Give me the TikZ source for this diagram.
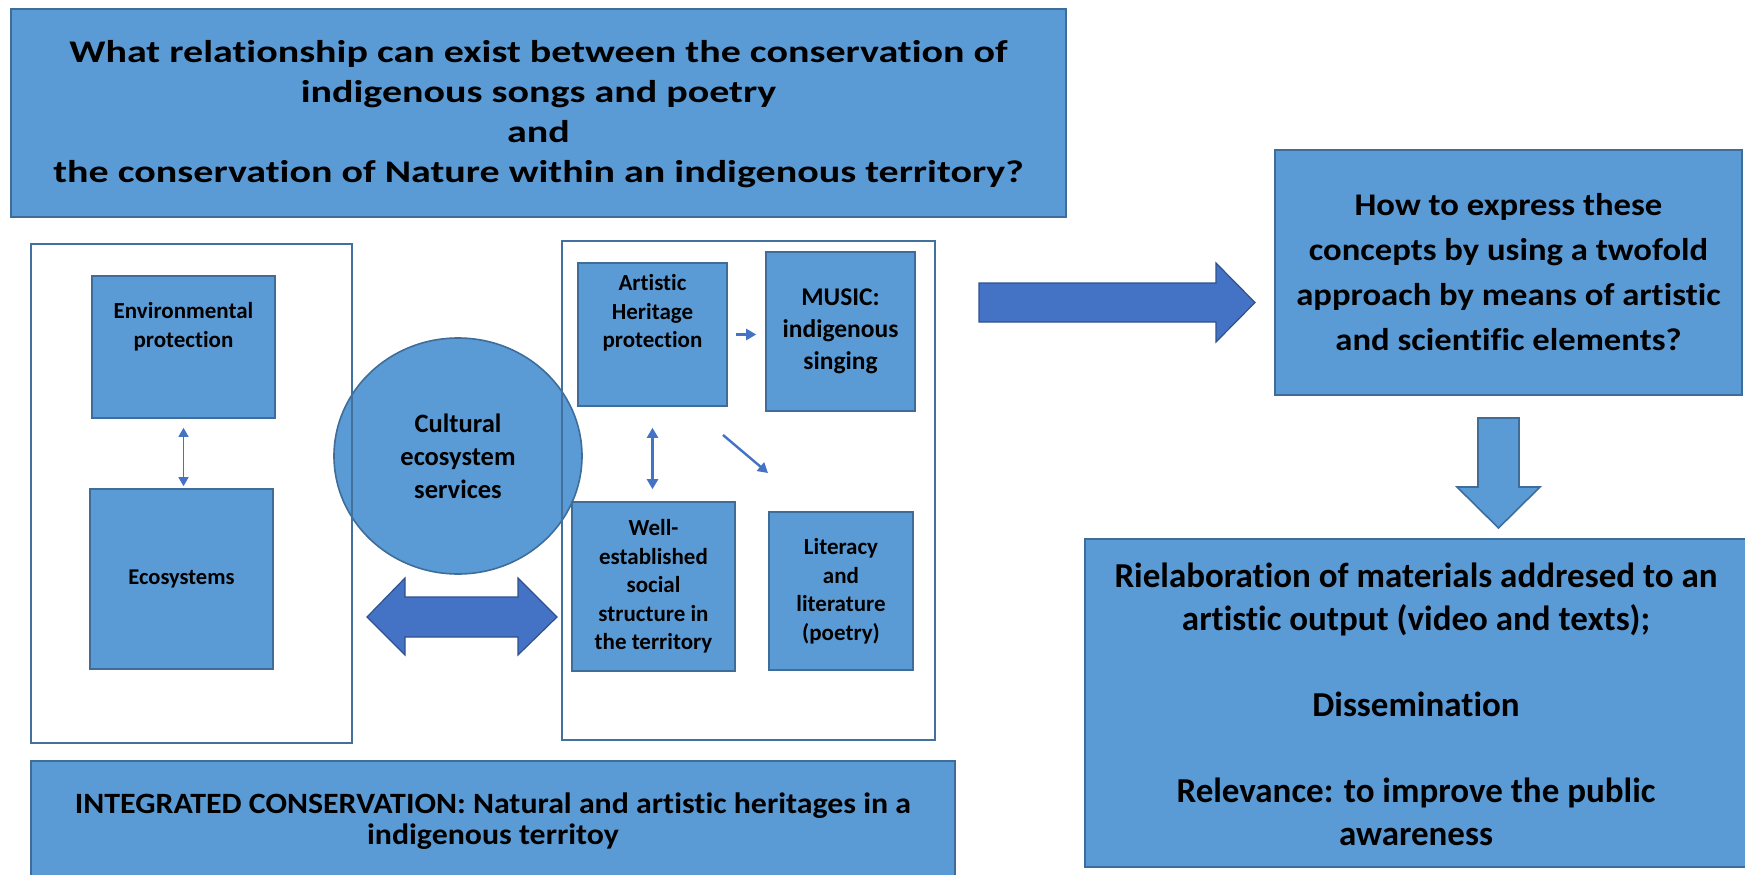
\documentclass[tikz,border=0pt]{standalone}
\usepackage{fontspec}
\setmainfont{Carlito}[Ligatures=NoCommon]
\newfontfamily\widefont{Carlito}[Ligatures=NoCommon, FakeStretch=1.27]
\newfontfamily\midfont{Carlito}[Ligatures=NoCommon, FakeStretch=1.10]
\newfontfamily\slimfont{Carlito}[Ligatures=NoCommon, FakeStretch=1.08]
\usetikzlibrary{arrows.meta,shapes.geometric}
\definecolor{boxblue}{HTML}{5B9BD5}
\definecolor{boxline}{HTML}{3E6D9A}
\definecolor{arrowblue}{HTML}{4472C4}
\definecolor{arrowline}{HTML}{2F528F}
\definecolor{frameline}{HTML}{41719C}
\newcommand{\fs}[2]{\fontsize{#1}{#2}\selectfont\bfseries}
\begin{document}
\begin{tikzpicture}[x=1pt,y=-1pt,
  bluebox/.style={draw=boxline, fill=boxblue, line width=1.6pt, inner sep=0pt, rectangle},
  framebox/.style={draw=frameline, line width=1.8pt},
  lbl/.style={align=center, inner sep=0pt, text=black},
  fatarrow/.style={draw=arrowline, fill=arrowblue, line width=1.2pt, line join=miter},
  downarrow/.style={draw=boxline, fill=boxblue, line width=1.6pt, line join=miter},
  thinarrow/.style={draw=arrowblue, line width=2.4pt, -{Triangle[length=10pt,width=11pt]}},
  twinarrow/.style={draw=arrowblue, line width=2.4pt, {Triangle[length=10pt,width=11pt]}-{Triangle[length=10pt,width=11pt]}},
  hairarrow/.style={draw=arrowblue, line width=1.2pt, {Triangle[length=9pt,width=10pt]}-{Triangle[length=9pt,width=10pt]}}]

\useasboundingbox (0,0) rectangle (1745,875);
\fill[white] (0,0) rectangle (1745,875);
\clip (0,0) rectangle (1745,875);

% research question
\node[bluebox, minimum width=1055pt, minimum height=208pt] (question) at (538.5,113) {};
\node[lbl, font=\widefont\fs{31.5}{40}] (questiontext) at (538.5,114)
  {What relationship can exist between the conservation of\\indigenous songs and poetry\\and\\the conservation of Nature within an indigenous territory?};

% cultural ecosystem services, drawn under the frames
\node[draw=boxline, fill=boxblue, line width=1.6pt, ellipse, minimum width=248pt, minimum height=236pt, inner sep=0pt] (ces) at (458,456) {};
\node[lbl, font=\fs{26.5}{33}] (cestext) at (ces.center) {Cultural\\ecosystem\\services};

% natural heritage frame
\node[framebox, minimum width=321pt, minimum height=499pt, inner sep=0pt] (natframe) at (191.5,493.5) {};
\node[bluebox, minimum width=183pt, minimum height=142pt] (env) at (183.5,347) {};
\node[lbl, font=\fs{23}{29}] (envtext) at (183.5,327) {Environmental\\protection};
\node[bluebox, minimum width=183pt, minimum height=180pt, font=\fs{22.5}{28}, align=center] (eco) at (181.5,579) {Ecosystems};
\draw[hairarrow, shorten <=9pt, shorten >=2pt] (env.south) -- (env.south |- eco.north);

% artistic heritage frame
\node[framebox, minimum width=373pt, minimum height=499pt, inner sep=0pt] (artframe) at (748.5,490.5) {};
\node[bluebox, minimum width=149pt, minimum height=143pt] (art) at (652.5,334.5) {};
\node[lbl, font=\fs{23}{28.5}] (arttext) at (652.5,313) {Artistic\\Heritage\\protection};
\node[bluebox, minimum width=149pt, minimum height=159pt, font=\fs{25.5}{32}, align=center] (music) at (840.5,331.5) {MUSIC:\\indigenous\\singing};
\node[bluebox, minimum width=163pt, minimum height=169pt, font=\fs{23}{28.5}, align=center] (well) at (653.5,586.5) {Well-\\established\\social\\structure in\\the territory};
\node[bluebox, minimum width=144pt, minimum height=158pt, font=\fs{23}{28.5}, align=center] (lit) at (841,591) {Literacy\\and\\literature\\(poetry)};

\draw[thinarrow, shorten <=8pt, shorten >=9pt] (art.east) -- (art.east -| music.west);
\draw[twinarrow, shorten <=21pt, shorten >=12pt] (art.south) -- (art.south |- well.north);
\coordinate (diagstart) at (723,435);
\coordinate (diagend) at (768,473);
\draw[thinarrow] (diagstart) -- (diagend);

% exchange between the two heritages
\coordinate (twinL) at (367,617);
\coordinate (twinR) at (557,617);
\draw[fatarrow] (twinL) -- (405,578) -- (405,597) -- (518,597) -- (518,578) -- (twinR)
  -- (518,655) -- (518,637) -- (405,637) -- (405,655) -- cycle;

% integrated conservation
\node[bluebox, minimum width=924pt, minimum height=121pt] (integrated) at (493,821.5) {};
\node[lbl, font=\slimfont\fs{29.5}{31}] (integratedtext) at (493,821)
  {INTEGRATED CONSERVATION: Natural and artistic heritages in a\\indigenous territoy};

% second question
\node[bluebox, minimum width=467pt, minimum height=245pt] (how) at (1508.5,272.5) {};
\node[lbl, font=\midfont\fs{31.5}{45}] (howtext) at (1508.5,272.5)
  {How to express these\\concepts by using a twofold\\approach by means of artistic\\and scientific elements?};
\coordinate (bigtail) at (979,302.5);
\coordinate (bigtip) at (1255,302.5);
\draw[fatarrow] (bigtail) -- (979,283) -- (1216,283) -- (1216,263) -- (bigtip) -- (1216,342) -- (1216,322) -- (979,322) -- cycle;

% outputs
\node[bluebox, minimum width=665pt, minimum height=328pt] (outputs) at (1417.5,703) {};
\node[lbl, font=\fs{35}{43}] (outputstext) at (1416,704)
  {Rielaboration of materials addresed to an\\artistic output (video and texts);\\[43pt]Dissemination\\[43pt]Relevance: to improve the public\\awareness};
\draw[downarrow] (1478,418) -- (1519,418) -- (1519,487) -- (1540,487) -- (1498.5,528) -- (1457,487) -- (1478,487) -- cycle;

\end{tikzpicture}
\end{document}
